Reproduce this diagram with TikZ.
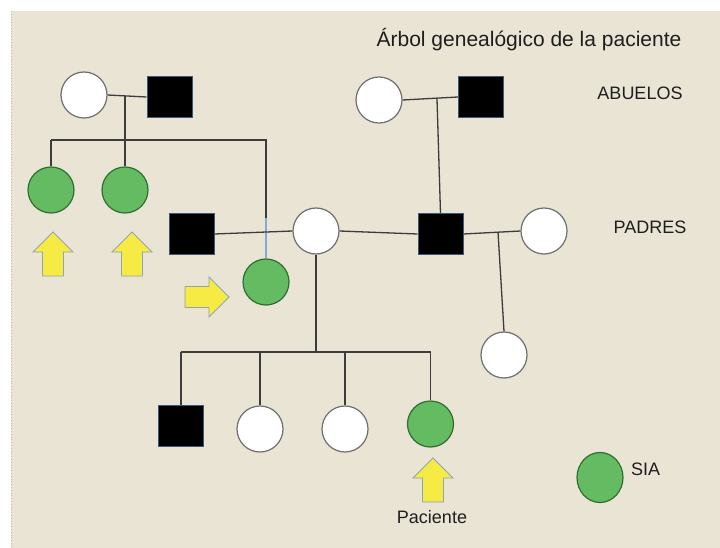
\documentclass[tikz,border=0pt]{standalone}
\usepackage{fontspec}
\setmainfont{Liberation Sans}
\usetikzlibrary{shapes.geometric}
\definecolor{femline}{RGB}{110,110,110}
\definecolor{mascline}{RGB}{60,90,125}
\definecolor{sialine}{RGB}{47,110,51}
\definecolor{siafill}{RGB}{100,187,97}
\definecolor{linkcol}{RGB}{60,60,60}
\definecolor{bluecol}{RGB}{130,170,210}
\definecolor{arrfill}{RGB}{246,234,69}
\definecolor{arrline}{RGB}{140,165,185}
\definecolor{txtcol}{RGB}{30,30,30}
\definecolor{bgcol}{RGB}{233,228,212}
\definecolor{dotcol}{RGB}{185,185,185}
\begin{document}
\begin{tikzpicture}[x=1pt,y=-1pt,
  fem/.style={circle,draw=femline,fill=white,line width=1.2pt,minimum size=46pt,inner sep=0pt},
  masc/.style={rectangle,draw=mascline,fill=black,line width=1pt,minimum width=45pt,minimum height=41pt,inner sep=0pt},
  sia/.style={circle,draw=sialine,fill=siafill,line width=1.2pt,minimum size=46pt,inner sep=0pt},
  link/.style={draw=linkcol,line width=1.3pt},
  bluelink/.style={draw=bluecol,line width=1.3pt},
  arrowshape/.style={fill=arrfill,draw=arrline,line width=0.8pt},
  lbl/.style={font=\fontsize{18}{21}\selectfont,text=txtcol,inner sep=0pt},
  uparrow/.pic={\path[arrowshape] (0,0) -- (20,20) -- (10.5,20) -- (10.5,44) -- (-10.5,44) -- (-10.5,20) -- (-20,20) -- cycle;}
]
\useasboundingbox (0,0) rectangle (720,548);
\fill[white] (0,0) rectangle (720,548);
\fill[bgcol] (11,11) rectangle (720,548);
\draw[dotcol,dotted,line width=0.8pt] (11.5,11) -- (11.5,548);

% title and labels
\node[lbl,font=\fontsize{21}{24}\selectfont] (title) at (529,40) {Árbol genealógico de la paciente};
\node[lbl] (abuelos) at (640,93) {ABUELOS};
\node[lbl] (padres) at (650,227) {PADRES};

% grandparents
\node[fem] (gm1) at (84,95) {};
\node[masc] (gf1) at (169.5,97) {};
\node[fem] (gm2) at (379,100) {};
\node[masc] (gf2) at (481,97) {};

% aunts
\node[sia] (a1) at (51,190) {};
\node[sia] (a2) at (125,190) {};
\node[sia] (a3) at (266,282) {};

% parents generation
\node[masc] (fa) at (191.5,234) {};
\node[fem] (mo) at (316,231) {};
\node[masc] (sf) at (440.5,234) {};
\node[fem] (sw) at (544,231) {};
\node[fem] (hs) at (504,355) {};

% children
\node[masc] (c1) at (181,426) {};
\node[fem] (c2) at (260,429) {};
\node[fem] (c3) at (345,429) {};
\node[sia] (pat) at (430.5,424) {};

% legend
\node[sia,ellipse,minimum width=46pt,minimum height=50pt] (leg) at (600,477.5) {};
\node[lbl,anchor=west] (sialbl) at (631,469) {SIA};
\node[lbl] (pac) at (432,517) {Paciente};

% coordinates
\coordinate (m1) at (125,96);
\coordinate (s1a) at (51,140);
\coordinate (s1b) at (125,140);
\coordinate (s1c) at (266,140);
\coordinate (s1d) at (266,218);
\coordinate (m2) at (437,99);
\coordinate (m3) at (498,232);
\coordinate (s2) at (316,352);
\coordinate (s2a) at (181,352);
\coordinate (s2b) at (260,352);
\coordinate (s2c) at (345,352);
\coordinate (s2d) at (430.5,352);

% connectors
\draw[link] (gm1.east) -- (gf1.west);
\draw[link] (m1) -- (a2.north);
\draw[link] (s1a) -- (s1c) -- (s1d);
\draw[link] (s1a) -- (a1.north);
\draw[bluelink] (s1d) -- (a3.north);
\draw[link] (fa.east) -- (mo.west);
\draw[link] (mo.east) -- (sf.west);
\draw[link] (gm2.east) -- (gf2.west);
\draw[link] (m2) -- (sf.north);
\draw[link] (sf.east) -- (sw.west);
\draw[link] (m3) -- (hs.north);
\draw[link] (mo.south) -- (s2);
\draw[link] (s2a) -- (s2d);
\draw[link] (s2a) -- (c1.north);
\draw[link] (s2b) -- (c2.north);
\draw[link] (s2c) -- (c3.north);
\draw[link] (s2d) -- (pat.north);

% arrows
\pic at (53,232) {uparrow};
\pic at (132,232) {uparrow};
\pic at (433,458) {uparrow};
\pic[rotate=-90] at (229,297) {uparrow};
\end{tikzpicture}
\end{document}
